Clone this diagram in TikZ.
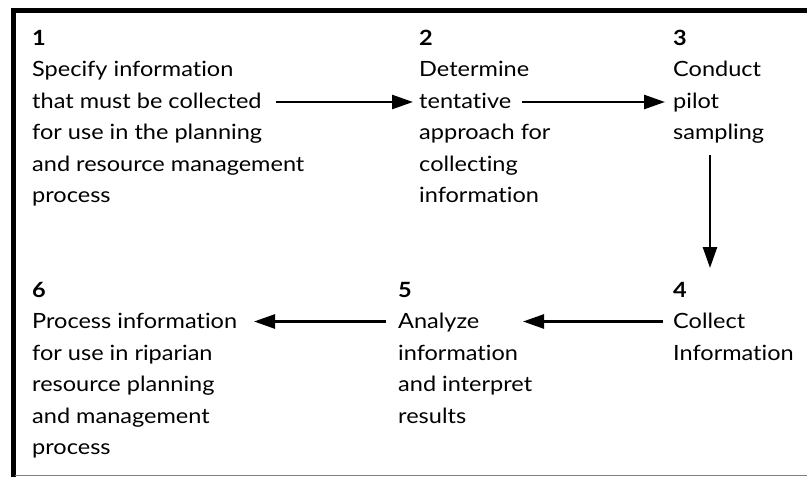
\documentclass[tikz,border=0pt]{standalone}
\usepackage{fontspec}
\setmainfont{Lato}[FakeStretch=1.12, Ligatures=NoCommon]
\usetikzlibrary{arrows.meta}
\newcommand{\steplines}[1]{\begin{tabular}[t]{@{}l@{}}#1\end{tabular}}
\begin{document}
\begin{tikzpicture}[x=1pt,y=-1pt,
  steptext/.style={anchor=base west, inner sep=0pt,
    font=\fontsize{21}{31.5}\selectfont},
  flow/.style={line width=2.6pt, -{Triangle[length=21pt,width=14pt]}},
  frame/.style={line width=5pt, black},
  baseline rule/.style={line width=1.2pt, black!50},
]
\useasboundingbox (0,0) rectangle (807,477);
% frame
\coordinate (tl) at (11,10.5);
\coordinate (tr) at (807,10.5);
\coordinate (lt) at (13.5,8);
\coordinate (lb) at (13.5,477);
\coordinate (bl) at (15,475.5);
\coordinate (br) at (807,475.5);
\draw[frame] (tl) -- (tr);
\draw[frame, line width=4.5pt] (lt) -- (lb);
\draw[baseline rule] (bl) -- (br);
% steps
\node[steptext] (s1) at (32,45) {\steplines{\textbf{1}\\Specify information\\that must be collected\\for use in the planning\\and resource management\\process}};
\node[steptext] (s2) at (419,45) {\steplines{\textbf{2}\\Determine\\tentative\\approach for\\collecting\\information}};
\node[steptext] (s3) at (673,45) {\steplines{\textbf{3}\\Conduct\\pilot\\sampling}};
\node[steptext] (s4) at (673,297) {\steplines{\textbf{4}\\Collect\\Information}};
\node[steptext] (s5) at (398,297) {\steplines{\textbf{5}\\Analyze\\information\\and interpret\\results}};
\node[steptext] (s6) at (32,297) {\steplines{\textbf{6}\\Process information\\for use in riparian\\resource planning\\and management\\process}};
% connector ends
\coordinate (a12s) at (276,102);
\coordinate (a12e) at (413,102);
\coordinate (a23s) at (522,102);
\coordinate (a23e) at (665,102);
\coordinate (a34s) at (710,155);
\coordinate (a34e) at (710,268);
\coordinate (a45s) at (663,321.5);
\coordinate (a45e) at (523,321.5);
\coordinate (a56s) at (386,321.5);
\coordinate (a56e) at (254,321.5);
\draw[flow] (a12s) -- (a12e);
\draw[flow] (a23s) -- (a23e);
\draw[flow] (a34s) -- (a34e);
\draw[flow] (a45s) -- (a45e);
\draw[flow] (a56s) -- (a56e);
\end{tikzpicture}
\end{document}
